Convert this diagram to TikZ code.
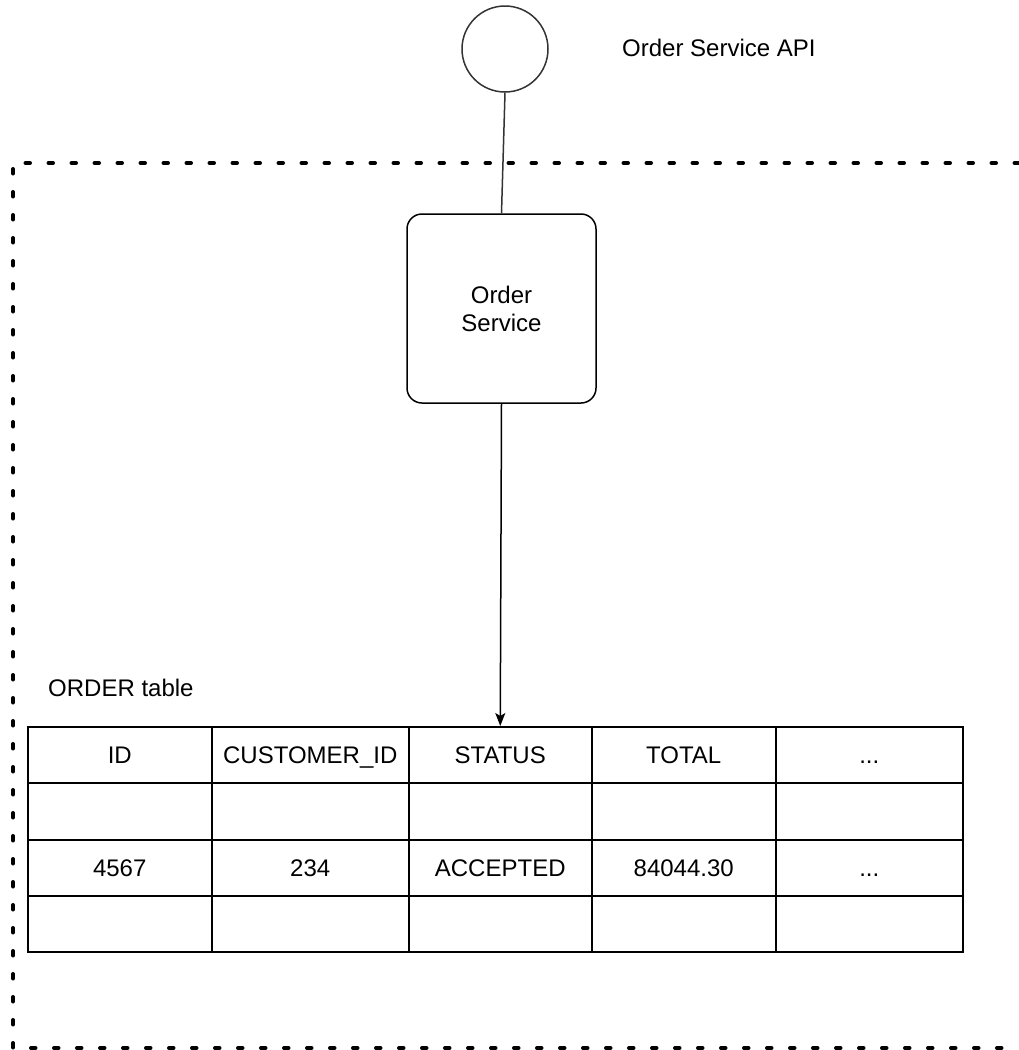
\documentclass[tikz,border=0pt]{standalone}
\usepackage{fontspec}
\setmainfont{Liberation Sans}
\usetikzlibrary{arrows.meta}
\newcommand\ellip{...}
\begin{document}
\begin{tikzpicture}[x=1pt,y=-1pt,
  txt/.style={font=\fontsize{24}{28}\selectfont, inner sep=0pt},
  cell/.style={draw, line width=1.5pt, inner sep=0pt, anchor=north west,
    text height=17.2pt, text depth=0pt, font=\fontsize{24}{28}\selectfont},
  apibubble/.style={draw=black!80, line width=1.5pt, circle, minimum size=86pt, inner sep=0pt},
  svcbox/.style={draw, line width=1.5pt, rounded corners=15pt, minimum width=189pt,
    minimum height=189pt, align=center, font=\fontsize{24}{28}\selectfont},
  boundary/.style={line width=4pt, line cap=round, dash pattern=on 4.5pt off 18.5pt},
  link/.style={line width=1.5pt, draw=black!80},
  flow/.style={line width=1.5pt, -{Stealth[length=13pt,width=10pt,inset=3pt]}}]

\useasboundingbox (0,0) rectangle (1019,1050);

% service boundary (open to the right)
\draw[boundary, overlay] (1019,163) -- (13,163) -- (13,1048) -- (1019,1048);

% API endpoint and the service behind it
\node[apibubble] (api) at (505,49) {};
\node[txt, anchor=west] (apilabel) at (622,48) {Order Service API};
\node[svcbox] (svc) at (501.5,308.5) {Order\\Service};
\draw[link] (api.south) -- (svc.north);

% ORDER table
\node[txt, anchor=west] (tlabel) at (48,688) {ORDER table};
\foreach \x/\w/\t [count=\i] in {27/184/ID, 211/197/CUSTOMER\_ID, 408/183/STATUS, 591/184/TOTAL, 775/187/\ellip}
  \node[cell, minimum width=\w pt, minimum height=56pt] (h\i) at (\x,726) {\t};
\foreach \x/\w [count=\i] in {27/184, 211/197, 408/183, 591/184, 775/187}
  \node[cell, minimum width=\w pt, minimum height=57pt] (e\i) at (\x,782) {};
\foreach \x/\w/\t [count=\i] in {27/184/4567, 211/197/234, 408/183/ACCEPTED, 591/184/84044.30, 775/187/\ellip}
  \node[cell, minimum width=\w pt, minimum height=56pt] (d\i) at (\x,839) {\t};
\foreach \x/\w [count=\i] in {27/184, 211/197, 408/183, 591/184, 775/187}
  \node[cell, minimum width=\w pt, minimum height=56pt] (f\i) at (\x,895) {};

\draw[flow] (svc.south) -- (h3.north);
\end{tikzpicture}
\end{document}
